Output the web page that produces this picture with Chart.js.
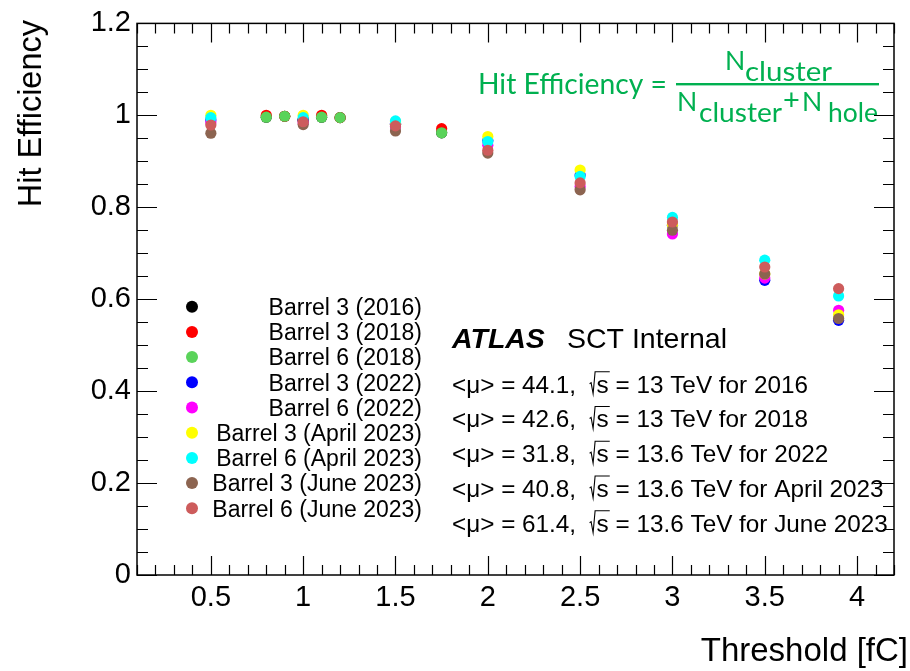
<!DOCTYPE html>
<html><head><meta charset="utf-8">
<script src="https://cdn.jsdelivr.net/npm/chart.js@4"></script>
<style>html,body{margin:0;padding:0;background:#fff;overflow:hidden}</style>
</head><body>
<canvas id="c" width="910" height="671"></canvas>
<script>
// ---------- data ----------
const seriesLabels = [
  'Barrel 3 (2016)', 'Barrel 3 (2018)', 'Barrel 6 (2018)',
  'Barrel 3 (2022)', 'Barrel 6 (2022)',
  'Barrel 3 (April 2023)', 'Barrel 6 (April 2023)',
  'Barrel 3 (June 2023)', 'Barrel 6 (June 2023)'
];
const seriesColors = ['#000000', '#ff0000', '#5ad35a', '#0000ff', '#ff00ff', '#ffff00', '#00ffff', '#8c6450', '#cd5c5c'];

const thresholdsRun2 = [0.8, 0.9, 1.0, 1.1, 1.2, 1.5, 1.75];
const thresholdsRun3 = [0.5, 1.0, 1.5, 2.0, 2.5, 3.0, 3.5, 3.9];

const effB3_2016 = [0.996, 0.998, 0.990, 0.996, 0.995, 0.980, 0.962];
const effB3_2018 = [1.000, 0.998, 0.990, 1.000, 0.995, 0.980, 0.971];
const effB6_2018 = [0.996, 0.998, 0.990, 0.996, 0.995, 0.980, 0.962];
const effB3_2022 = [0.990, 0.990, 0.983, 0.945, 0.870, 0.761, 0.641, 0.554];
const effB6_2022 = [0.984, 0.984, 0.975, 0.935, 0.845, 0.742, 0.646, 0.576];
const effB3_Apr2023 = [1.000, 1.000, 0.986, 0.954, 0.881, 0.762, 0.655, 0.566];
const effB6_Apr2023 = [0.995, 0.995, 0.988, 0.943, 0.867, 0.778, 0.685, 0.607];
const effB3_Jun2023 = [0.961, 0.980, 0.966, 0.918, 0.838, 0.750, 0.655, 0.558];
const effB6_Jun2023 = [0.979, 0.986, 0.977, 0.924, 0.853, 0.768, 0.670, 0.623];

const seriesX = [thresholdsRun2, thresholdsRun2, thresholdsRun2, thresholdsRun3, thresholdsRun3, thresholdsRun3, thresholdsRun3, thresholdsRun3, thresholdsRun3];
const seriesY = [effB3_2016, effB3_2018, effB6_2018, effB3_2022, effB6_2022, effB3_Apr2023, effB6_Apr2023, effB3_Jun2023, effB6_Jun2023];

const xTickValues = [0.5, 1, 1.5, 2, 2.5, 3, 3.5, 4];
const xTickLabels = ['0.5', '1', '1.5', '2', '2.5', '3', '3.5', '4'];
const yTickValues = [0, 0.2, 0.4, 0.6, 0.8, 1.0, 1.2];
const yTickLabels = ['0', '0.2', '0.4', '0.6', '0.8', '1', '1.2'];

const xTitle = 'Threshold [fC]';
const yTitle = 'Hit Efficiency';
const atlasLabel = 'ATLAS';
const atlasSuffix = 'SCT Internal';
const muValues = ['44.1', '42.6', '31.8', '40.8', '61.4'];
const sqrtSValues = ['13', '13', '13.6', '13.6', '13.6'];
const periodNames = ['2016', '2018', '2022', 'April 2023', 'June 2023'];

// ---------- helpers ----------
const FONT = '"Liberation Sans", Arial, Helvetica, sans-serif';
function drawText(ctx, str, x, y, font, color, align, targetW) {
  ctx.save();
  ctx.font = font;
  ctx.fillStyle = color;
  ctx.textBaseline = 'alphabetic';
  ctx.textAlign = 'left';
  const w = ctx.measureText(str).width;
  const sx = targetW ? targetW / w : 1;
  const ww = w * sx;
  const left = align === 'right' ? x - ww : (align === 'center' ? x - ww / 2 : x);
  ctx.translate(left, y);
  ctx.scale(sx, 1);
  ctx.fillText(str, 0, 0);
  ctx.restore();
  return left + ww;
}

const rootStyle = {
  id: 'rootStyle',
  beforeDatasetsDraw(chart) {
    const ctx = chart.ctx;
    const a = chart.chartArea;
    const xs = chart.scales.x, ys = chart.scales.y;
    ctx.save();
    ctx.strokeStyle = '#000';
    ctx.lineWidth = 1.5;
    ctx.strokeRect(a.left, a.top, a.right - a.left, a.bottom - a.top);
    ctx.lineWidth = 1.2;
    ctx.beginPath();
    for (let k = 1; k <= 42; k++) {
      const v = k / 10;
      const px = Math.round(xs.getPixelForValue(v)) + 0.5;
      const len = (k % 5 === 0) ? 19 : 10;
      ctx.moveTo(px, a.bottom); ctx.lineTo(px, a.bottom - len);
      ctx.moveTo(px, a.top); ctx.lineTo(px, a.top + len);
    }
    for (let k = 0; k <= 24; k++) {
      const v = k / 20;
      const py = Math.round(ys.getPixelForValue(v)) + 0.5;
      const len = (k % 4 === 0) ? 20 : 11;
      ctx.moveTo(a.left, py); ctx.lineTo(a.left + len, py);
      ctx.moveTo(a.right, py); ctx.lineTo(a.right - len, py);
    }
    ctx.stroke();
    ctx.restore();
  },
  afterDraw(chart) {
    const ctx = chart.ctx;
    drawText(ctx, xTitle, 908, 661, '33px ' + FONT, '#000', 'right');
    ctx.save();
    ctx.translate(41, 20);
    ctx.rotate(-Math.PI / 2);
    drawText(ctx, yTitle, 0, 0, '32.5px ' + FONT, '#000', 'right');
    ctx.restore();

    for (let i = 0; i < seriesLabels.length; i++) {
      const cy = 306.7 + i * 25.2;
      ctx.beginPath();
      ctx.fillStyle = seriesColors[i];
      ctx.arc(192, cy, 6, 0, Math.PI * 2);
      ctx.fill();
      drawText(ctx, seriesLabels[i], 422, cy + 8.3, '23px ' + FONT, '#000', 'right');
    }

    drawText(ctx, atlasLabel, 452, 348, 'italic bold 28.5px ' + FONT, '#000', 'left');
    drawText(ctx, atlasSuffix, 567, 348, '28.5px ' + FONT, '#000', 'left');

    const f = '24.3px ' + FONT;
    for (let i = 0; i < muValues.length; i++) {
      const by = 392.7 + i * 34.75;
      let x = drawText(ctx, '<\u03bc> = ' + muValues[i] + ',  ', 452, by, f, '#000', 'left');
      ctx.save();
      ctx.strokeStyle = '#000';
      ctx.lineWidth = 1.1;
      ctx.beginPath();
      ctx.moveTo(x, by - 9);
      ctx.lineTo(x + 1.5, by - 10);
      ctx.lineTo(x + 3.5, by + 1);
      ctx.lineTo(x + 5.5, by - 21);
      ctx.font = f;
      const sw = ctx.measureText('s').width;
      ctx.lineTo(x + 7 + sw + 1, by - 21);
      ctx.stroke();
      ctx.restore();
      x = drawText(ctx, 's', x + 7, by, f, '#000', 'left');
      drawText(ctx, ' = ' + sqrtSValues[i] + ' TeV for ' + periodNames[i], x, by, f, '#000', 'left');
    }

    const g = '#00b050';
    const gf = (s) => s + 'px Lato, "Open Sans", sans-serif';
    drawText(ctx, 'Hit Efficiency =', 478, 94, gf(28), g, 'left', 189);
    ctx.save();
    ctx.fillStyle = g;
    ctx.fillRect(676, 83, 203, 2.4);
    ctx.restore();
    drawText(ctx, 'N', 725, 69.5, gf(26.5), g, 'left');
    drawText(ctx, 'cluster', 745, 80.7, gf(27), g, 'left', 87);
    drawText(ctx, 'N', 677, 110.7, gf(26.5), g, 'left');
    drawText(ctx, 'cluster', 699, 121.7, gf(27), g, 'left', 83);
    drawText(ctx, '+', 783, 109.5, gf(29), g, 'left');
    drawText(ctx, 'N', 802, 110.7, gf(26.5), g, 'left');
    drawText(ctx, 'hole', 828, 121.7, gf(27), g, 'left', 50);
  }
};

const n = seriesLabels.length;
const datasets = seriesLabels.map((label, i) => ({
  label,
  data: seriesX[i].map((x, j) => ({ x, y: seriesY[i][j] })),
  backgroundColor: seriesColors[i],
  borderColor: seriesColors[i],
  borderWidth: 0,
  pointRadius: 5.6,
  pointHoverRadius: 5.6,
  showLine: false,
  order: n - 1 - i
}));

new Chart(document.getElementById('c'), {
  type: 'scatter',
  data: { datasets },
  options: {
    responsive: false,
    animation: false,
    devicePixelRatio: 1,
    layout: { padding: { top: 20, right: 16, left: 0, bottom: 0 } },
    plugins: { legend: { display: false }, tooltip: { enabled: false } },
    scales: {
      x: {
        type: 'linear', min: 0.1, max: 4.2,
        afterBuildTicks: (s) => { s.ticks = xTickValues.map(v => ({ value: v })); },
        afterFit: (s) => { s.height = 96; },
        ticks: {
          autoSkip: false, maxRotation: 0, padding: 6, color: '#000',
          font: { family: FONT, size: 29 },
          callback: (v) => xTickLabels[xTickValues.indexOf(v)]
        },
        grid: { display: false, drawTicks: false },
        border: { display: false }
      },
      y: {
        type: 'linear', min: 0, max: 1.2,
        afterBuildTicks: (s) => { s.ticks = yTickValues.map(v => ({ value: v })); },
        afterFit: (s) => { s.width = 137; },
        ticks: {
          autoSkip: false, padding: 6, color: '#000',
          font: { family: FONT, size: 29 },
          callback: (v) => yTickLabels[yTickValues.indexOf(v)]
        },
        grid: { display: false, drawTicks: false },
        border: { display: false }
      }
    }
  },
  plugins: [rootStyle]
});
</script>
</body></html>
